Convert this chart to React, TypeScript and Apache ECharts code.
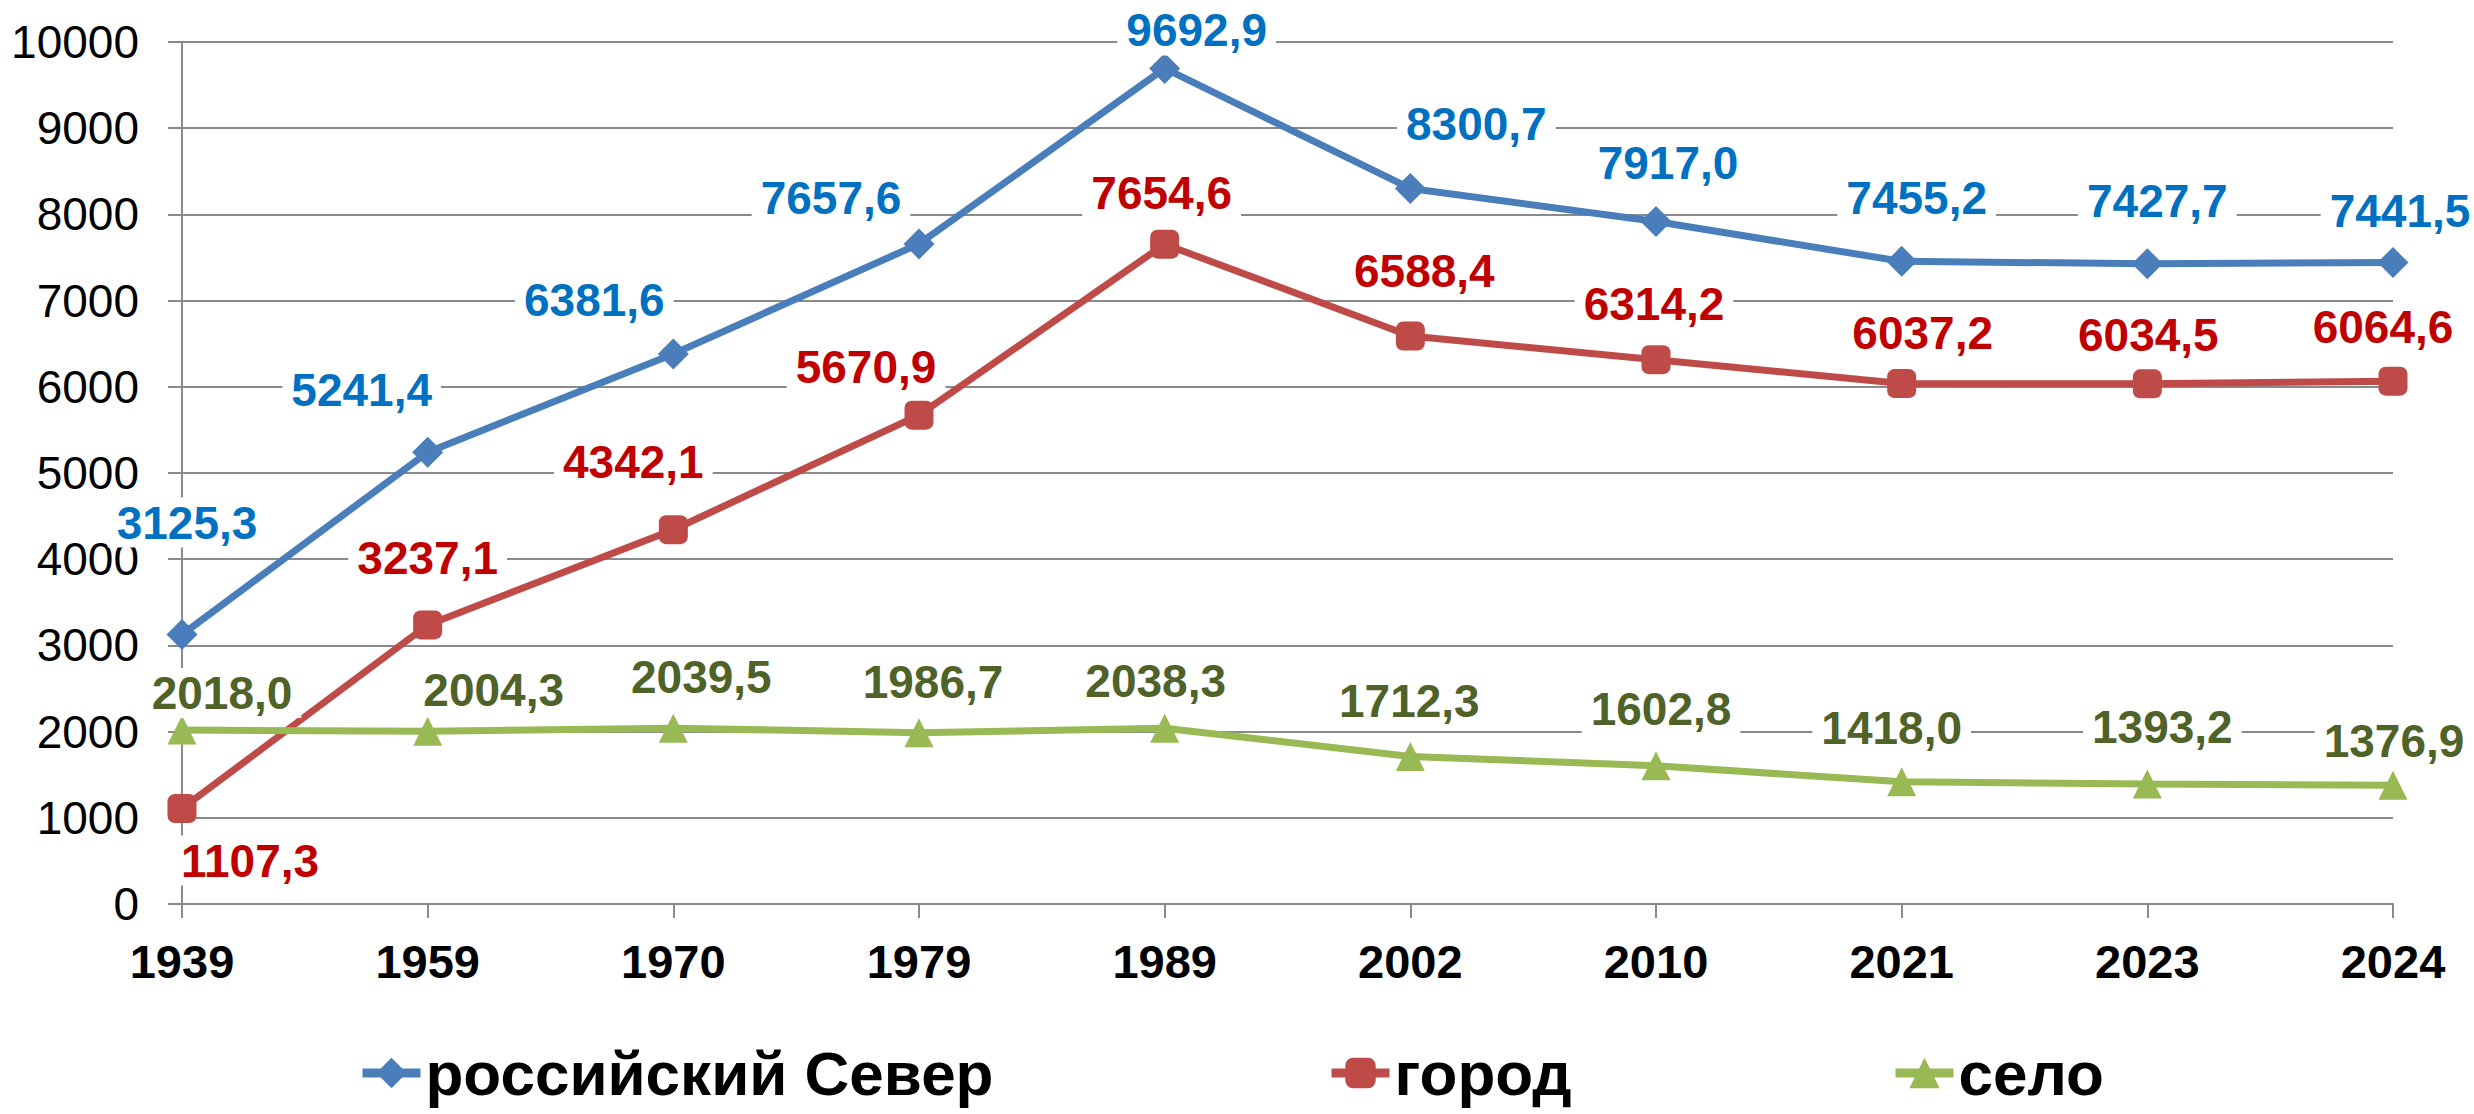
import React, { useEffect, useRef } from 'react';
import * as echarts from 'echarts';

const years = ['1939', '1959', '1970', '1979', '1989', '2002', '2010', '2021', '2023', '2024'];
const north = [3125.3, 5241.4, 6381.6, 7657.6, 9692.9, 8300.7, 7917.0, 7455.2, 7427.7, 7441.5];
const city = [1107.3, 3237.1, 4342.1, 5670.9, 7654.6, 6588.4, 6314.2, 6037.2, 6034.5, 6064.6];
const village = [2018.0, 2004.3, 2039.5, 1986.7, 2038.3, 1712.3, 1602.8, 1418.0, 1393.2, 1376.9];
const seriesNames = ['российский Север', 'город', 'село'];

const yMin = 0;
const yMax = 10000;
const yStep = 1000;

// label offsets (px) relative to each point
const northLabelOffsets = [[5, -112], [-66, -62], [-79, -54], [-88, -46], [32, -38], [66, -64], [12, -59], [15, -63], [10, -63], [7, -52]];
const cityLabelOffsets = [[68, 52], [0, -67], [-40, -68], [-53, -48], [-3, -51], [14, -65], [-2, -56], [21, -51], [1, -49], [-10, -54]];
const villageLabelOffsets = [[40, -37], [66, -41], [28, -51], [14, -51], [-9, -47], [-1, -55], [5, -57], [-10, -54], [15, -57], [1, -44]];

const FONT = "'Liberation Sans', Arial, sans-serif";
const GRID_COLOR = '#8a8a8a';

const fmt = (v: number) => v.toFixed(1).replace('.', ',');

function buildSeries(
  name: string,
  values: number[],
  offsets: number[][],
  lineColor: string,
  labelColor: string,
  symbol: string,
  symbolSize: number
) {
  return {
    name,
    type: 'line',
    data: values.map((v, i) => ({
      value: v,
      label: { offset: offsets[i] },
    })),
    symbol,
    symbolSize,
    lineStyle: { color: lineColor, width: 7 },
    itemStyle: { color: lineColor },
    label: {
      show: true,
      position: 'inside',
      formatter: (p: any) => fmt(p.value),
      color: labelColor,
      fontFamily: FONT,
      fontWeight: 'bold',
      fontSize: 46,
      backgroundColor: '#ffffff',
      padding: [2, 9],
    },
    emphasis: { disabled: true },
  };
}

export default function App() {
  const ref = useRef<HTMLDivElement>(null);
  useEffect(() => {
    if (!ref.current) return;
    const chart = echarts.init(ref.current, undefined, { renderer: 'svg' });
    const legendCommon = {
      top: 1040,
      itemWidth: 58,
      itemHeight: 38,
      itemGap: 0,
      padding: 0,
      lineStyle: { width: 9 },
      textStyle: { fontFamily: FONT, fontWeight: 'bold', fontSize: 62, color: '#000', lineHeight: 66 },
      selectedMode: false,
    };
    chart.setOption({
      animation: false,
      backgroundColor: '#ffffff',
      grid: { left: 182, right: 81, top: 42, bottom: 210, containLabel: false },
      legend: [
        { ...legendCommon, left: 358, data: [seriesNames[0]] },
        { ...legendCommon, left: 1327, data: [seriesNames[1]] },
        { ...legendCommon, left: 1891, data: [seriesNames[2]] },
      ],
      xAxis: {
        type: 'category',
        data: years,
        boundaryGap: false,
        axisLine: { show: true, lineStyle: { color: GRID_COLOR, width: 2 } },
        axisTick: { show: true, length: 14, lineStyle: { color: GRID_COLOR, width: 2 } },
        axisLabel: { fontFamily: FONT, fontWeight: 'bold', fontSize: 47, color: '#000', margin: 34 },
        splitLine: { show: false },
      },
      yAxis: {
        type: 'value',
        min: yMin,
        max: yMax,
        interval: yStep,
        axisLine: { show: true, lineStyle: { color: GRID_COLOR, width: 2 } },
        axisTick: { show: true, length: 14, lineStyle: { color: GRID_COLOR, width: 2 } },
        axisLabel: {
          fontFamily: FONT,
          fontSize: 46,
          color: '#000',
          margin: 43,
          formatter: (v: number) => String(v),
        },
        splitLine: { show: true, lineStyle: { color: GRID_COLOR, width: 2 } },
      },
      series: [
        buildSeries(seriesNames[0], north, northLabelOffsets, '#4A7EBB', '#0070C0', 'diamond', 31),
        buildSeries(seriesNames[1], city, cityLabelOffsets, '#BE4B48', '#C00000', 'roundRect', 29),
        buildSeries(seriesNames[2], village, villageLabelOffsets, '#98B954', '#4F6228', 'triangle', 29),
      ],
    });
    return () => chart.dispose();
  }, []);
  return (
    <div
      ref={ref}
      style={{ position: 'fixed', left: 0, top: 0, width: 2474, height: 1114, background: '#fff' }}
    />
  );
}
